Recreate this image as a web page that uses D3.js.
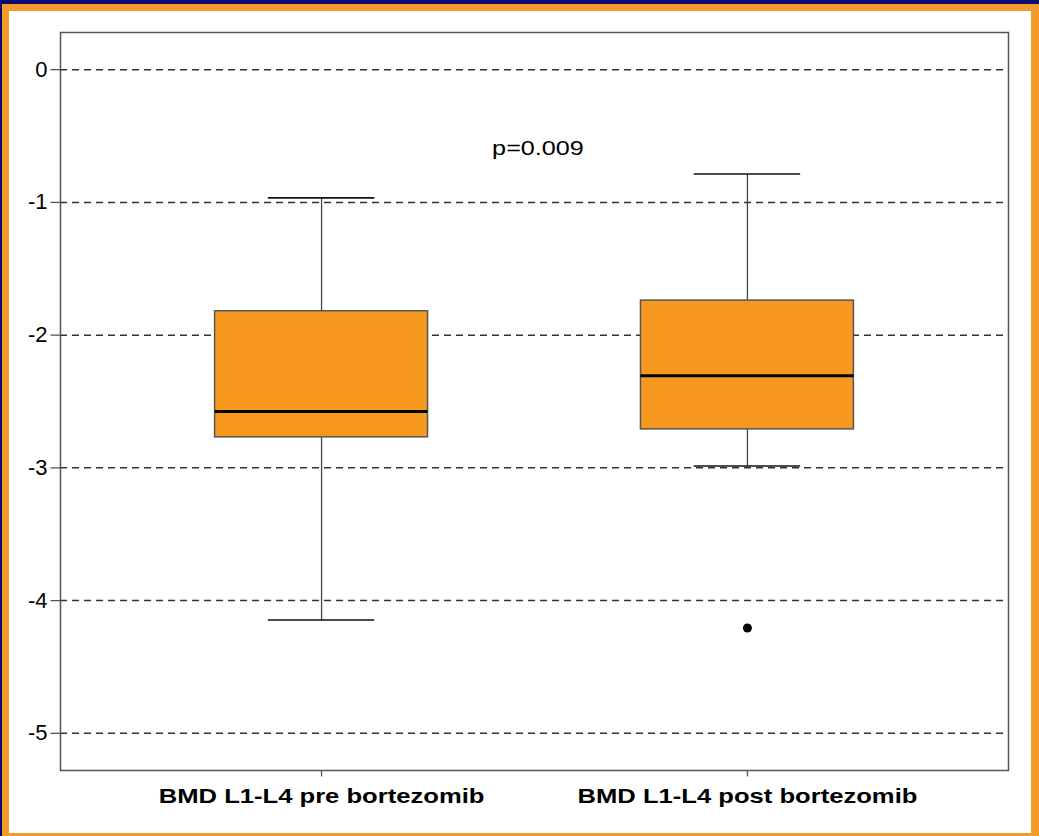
<!DOCTYPE html>
<html>
<head>
<meta charset="utf-8">
<script src="https://cdn.jsdelivr.net/npm/d3@7"></script>
<style>
  html, body { margin: 0; padding: 0; background: #0a0a6e; }
  svg { display: block; }
</style>
</head>
<body>
<svg id="chart" width="1039" height="836"></svg>
<script>
// box plot data
const groups = ['BMD L1-L4 pre bortezomib', 'BMD L1-L4 post bortezomib'];
const whiskerLow = [-4.15, -2.99];
const quartile1 = [-2.77, -2.71];
const medians = [-2.58, -2.31];
const quartile3 = [-1.82, -1.74];
const whiskerHigh = [-0.97, -0.79];
const outliers = [[], [-4.21]];
const yTicks = [0, -1, -2, -3, -4, -5];
const pLabel = 'p=0.009';

const W = 1039, H = 836;
const margin = { top: 32, right: 31, bottom: 66, left: 60 };
const fontFamily = '"Liberation Sans", Arial, sans-serif';

const svg = d3.select('#chart');

// outer frame: navy edge, orange band, white panel
svg.append('rect').attr('x', 0).attr('y', 0).attr('width', W).attr('height', H).attr('fill', '#0a0a6e');
svg.append('rect').attr('x', 2).attr('y', 4).attr('width', W - 2).attr('height', H - 4).attr('fill', '#f39a2b');
svg.append('rect').attr('x', 9).attr('y', 11).attr('width', 1022).attr('height', 822).attr('fill', '#ffffff');

const plotL = margin.left, plotR = W - margin.right;
const plotT = margin.top, plotB = H - margin.bottom;

const x = d3.scalePoint()
    .domain(groups)
    .range([plotL, plotR])
    .padding(0.613);

const y = d3.scaleLinear()
    .domain([-5.28, 0.28])
    .range([plotB, plotT]);

// dashed grid lines
svg.append('g')
    .selectAll('line')
    .data(yTicks)
    .join('line')
    .attr('x1', plotL)
    .attr('x2', plotR)
    .attr('y1', (d) => y(d) + 0.5)
    .attr('y2', (d) => y(d) + 0.5)
    .attr('stroke', '#333')
    .attr('stroke-width', 1.5)
    .attr('stroke-dasharray', '7,5');

// y axis
const yAxis = svg.append('g')
    .attr('transform', `translate(${plotL + 0.5},0)`)
    .call(d3.axisLeft(y).tickValues(yTicks).tickSize(10).tickPadding(3).tickFormat((d) => String(d)));
yAxis.select('.domain').remove();
yAxis.selectAll('.tick line').attr('stroke', '#555').attr('stroke-width', 1.3);
yAxis.selectAll('.tick text')
    .attr('fill', '#000')
    .style('font-family', fontFamily)
    .style('font-size', '22px');

// x axis
const xAxis = svg.append('g')
    .attr('transform', `translate(0,${plotB + 0.5})`)
    .call(d3.axisBottom(x).tickSize(6).tickPadding(0));
xAxis.select('.domain').remove();
xAxis.selectAll('.tick line').attr('stroke', '#555').attr('stroke-width', 1.3);
xAxis.selectAll('.tick text')
    .attr('fill', '#000')
    .attr('y', 33)
    .attr('dy', 0)
    .attr('transform', 'scale(1.22,1)')
    .style('font-family', fontFamily)
    .style('font-size', '21px')
    .style('font-weight', 'bold');

// plot border
svg.append('rect')
    .attr('x', plotL + 0.5)
    .attr('y', plotT + 0.5)
    .attr('width', plotR - plotL)
    .attr('height', plotB - plotT)
    .attr('fill', 'none')
    .attr('stroke', '#555')
    .attr('stroke-width', 1.5);

const boxW = x.step() * 0.5;
const capW = x.step() * 0.25;

const boxes = svg.append('g')
    .selectAll('g')
    .data(groups.map((g, i) => ({
        name: g,
        lo: whiskerLow[i], q1: quartile1[i], med: medians[i],
        q3: quartile3[i], hi: whiskerHigh[i], out: outliers[i]
    })))
    .join('g')
    .attr('transform', (d) => `translate(${x(d.name)},0)`);

// whisker stems
boxes.append('line')
    .attr('x1', 0.5).attr('x2', 0.5)
    .attr('y1', (d) => y(d.hi)).attr('y2', (d) => y(d.q3))
    .attr('stroke', '#444').attr('stroke-width', 1.3);
boxes.append('line')
    .attr('x1', 0.5).attr('x2', 0.5)
    .attr('y1', (d) => y(d.q1)).attr('y2', (d) => y(d.lo))
    .attr('stroke', '#444').attr('stroke-width', 1.3);

// whisker caps
boxes.selectAll('.cap')
    .data((d) => [d.hi, d.lo])
    .join('line')
    .attr('class', 'cap')
    .attr('x1', -capW / 2).attr('x2', capW / 2)
    .attr('y1', (d) => y(d)).attr('y2', (d) => y(d))
    .attr('stroke', '#111').attr('stroke-width', 1.6);

// boxes
boxes.append('rect')
    .attr('x', -boxW / 2)
    .attr('width', boxW)
    .attr('y', (d) => y(d.q3))
    .attr('height', (d) => y(d.q1) - y(d.q3))
    .attr('fill', '#f7991f')
    .attr('stroke', '#555')
    .attr('stroke-width', 1.5);

// medians
boxes.append('line')
    .attr('x1', -boxW / 2).attr('x2', boxW / 2)
    .attr('y1', (d) => y(d.med)).attr('y2', (d) => y(d.med))
    .attr('stroke', '#000').attr('stroke-width', 3);

// outliers
boxes.selectAll('.out')
    .data((d) => d.out)
    .join('circle')
    .attr('class', 'out')
    .attr('cx', 0.5)
    .attr('cy', (d) => y(d))
    .attr('r', 4.5)
    .attr('fill', '#000');

// p-value annotation
svg.append('g')
    .attr('transform', 'translate(538,155) scale(1.2,1)')
    .append('text')
    .attr('text-anchor', 'middle')
    .style('font-family', fontFamily)
    .style('font-size', '21px')
    .attr('fill', '#000')
    .text(pLabel);
</script>
</body>
</html>
